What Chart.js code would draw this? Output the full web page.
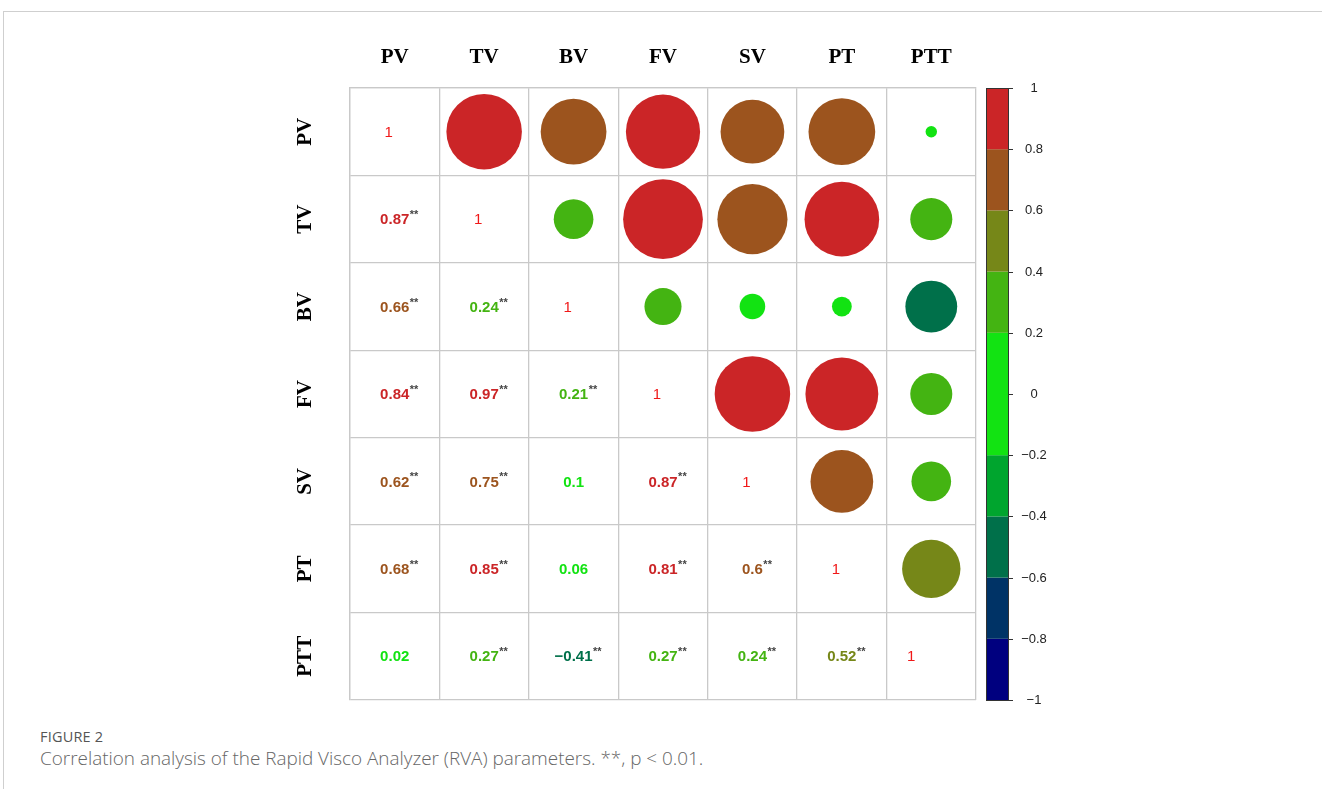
<!DOCTYPE html>
<html>
<head>
<meta charset="utf-8">
<script src="https://cdn.jsdelivr.net/npm/chart.js@4.4.1/dist/chart.umd.min.js"></script>
<style>
  html, body { margin: 0; padding: 0; background: #fff; }
  body { width: 1322px; height: 789px; position: relative; overflow: hidden; }
  #frame { position: absolute; left: 3px; top: 11px; right: 0; bottom: 0;
           border-top: 1px solid #cfcfcf; border-left: 1px solid #cfcfcf; }
  #wrap { position: absolute; left: 0; top: 0; width: 1322px; height: 789px; }
  #figno { position: absolute; left: 40px; top: 727px; font-family: "Open Sans", sans-serif;
           font-size: 14.5px; color: #555; letter-spacing: 0.2px; }
  #caption { position: absolute; left: 40px; top: 745px; font-family: "Open Sans", sans-serif;
             font-size: 18.9px; font-weight: 300; color: #666; }
</style>
</head>
<body>
<div id="frame"></div>
<div id="figno">FIGURE 2</div>
<div id="caption">Correlation analysis of the Rapid Visco Analyzer (RVA) parameters. **, p &lt; 0.01.</div>
<div id="wrap"><canvas id="c" width="1322" height="789"></canvas></div>
<script>
// RVA parameters
const vars = ['PV', 'TV', 'BV', 'FV', 'SV', 'PT', 'PTT'];

// Pearson r, lower triangle: each row variable against the earlier variables
const rTV  = [0.87];
const rBV  = [0.66, 0.24];
const rFV  = [0.84, 0.97, 0.21];
const rSV  = [0.62, 0.75, 0.1, 0.87];
const rPT  = [0.68, 0.85, 0.06, 0.81, 0.6];
const rPTT = [0.02, 0.27, -0.41, 0.27, 0.24, 0.52];

// significance marks (p < 0.01)
const sTV  = ['**'];
const sBV  = ['**', '**'];
const sFV  = ['**', '**', '**'];
const sSV  = ['**', '**', '', '**'];
const sPT  = ['**', '**', '', '**', '**'];
const sPTT = ['', '**', '**', '**', '**', '**'];

// colour key: ten bins of width 0.2 from -1 to 1
const binColors = ['#00007F', '#003366', '#00704A', '#00A52E', '#12E312',
                   '#12E312', '#44B412', '#768718', '#9C541E', '#CB2527'];
const keyTicks = [1, 0.8, 0.6, 0.4, 0.2, 0, -0.2, -0.4, -0.6, -0.8, -1];

const lowerR = [[], rTV, rBV, rFV, rSV, rPT, rPTT];
const lowerS = [[], sTV, sBV, sFV, sSV, sPT, sPTT];

function binColor(r) {
  let k = Math.floor((r + 1) * 5 + 1e-9);
  if (k > 9) k = 9;
  if (k < 0) k = 0;
  return binColors[k];
}
function fmt(v) { return String(v).replace('-', '\u2212'); }

// upper triangle circles (mirror of the lower triangle)
const circles = [];
for (let i = 0; i < vars.length; i++) {
  for (let j = i + 1; j < vars.length; j++) {
    circles.push({ x: vars[j], y: vars[i], r: lowerR[j][i] });
  }
}

const cellText = {
  id: 'cellText',
  afterDatasetsDraw(chart) {
    const ctx = chart.ctx;
    const xs = chart.scales.x, ys = chart.scales.y, cb = chart.scales.cb;
    const n = vars.length;
    ctx.save();
    ctx.textBaseline = 'middle';
    // lower-triangle coefficients
    for (let i = 1; i < n; i++) {
      for (let j = 0; j < i; j++) {
        const v = lowerR[i][j];
        const cx = xs.getPixelForValue(j), cy = ys.getPixelForValue(i);
        const txt = fmt(v);
        ctx.font = 'bold 15px "Liberation Sans", Arial, sans-serif';
        ctx.fillStyle = binColor(v);
        ctx.textAlign = 'center';
        ctx.fillText(txt, cx, cy + 1);
        const w = ctx.measureText(txt).width;
        if (lowerS[i][j]) {
          ctx.font = 'bold 11px "Liberation Sans", Arial, sans-serif';
          ctx.fillStyle = '#444';
          ctx.textAlign = 'left';
          ctx.fillText(lowerS[i][j], cx + w / 2 + 0.5, cy - 4);
        }
      }
    }
    // diagonal
    ctx.font = '15px "Liberation Sans", Arial, sans-serif';
    ctx.fillStyle = '#F01818';
    ctx.textAlign = 'center';
    for (let i = 0; i < n; i++) {
      const shift = i === n - 1 ? -20 : -6;
      ctx.fillText('1', xs.getPixelForValue(i) + shift, ys.getPixelForValue(i) + 1);
    }
    // row labels, rotated
    ctx.font = 'bold 21px "Liberation Serif", "Times New Roman", serif';
    ctx.fillStyle = '#000';
    for (let i = 0; i < n; i++) {
      ctx.save();
      ctx.translate(305, ys.getPixelForValue(i));
      ctx.rotate(-Math.PI / 2);
      ctx.textAlign = 'center';
      ctx.fillText(vars[i], 0, 1);
      ctx.restore();
    }
    // colour key
    const kx = 986, kw = 22;
    for (let k = 0; k < binColors.length; k++) {
      const lo = -1 + 0.2 * k, hi = lo + 0.2;
      const y1 = cb.getPixelForValue(hi), y2 = cb.getPixelForValue(lo);
      ctx.fillStyle = binColors[k];
      ctx.fillRect(kx, y1, kw, y2 - y1);
    }
    ctx.strokeStyle = '#333';
    ctx.lineWidth = 1;
    const top = cb.getPixelForValue(1), bot = cb.getPixelForValue(-1);
    ctx.strokeRect(kx + 0.5, top + 0.5, kw, bot - top);
    ctx.font = '13px "Liberation Sans", Arial, sans-serif';
    ctx.fillStyle = '#222';
    ctx.textAlign = 'center';
    keyTicks.forEach(t => {
      const y = Math.round(cb.getPixelForValue(t)) + 0.5;
      ctx.beginPath();
      ctx.moveTo(kx + kw, y);
      ctx.lineTo(kx + kw + 5, y);
      ctx.stroke();
      ctx.fillText(fmt(t), 1034, y);
    });
    ctx.restore();
  }
};

new Chart(document.getElementById('c'), {
  type: 'scatter',
  data: {
    datasets: [{
      data: circles,
      pointStyle: 'circle',
      pointBorderWidth: 0,
      borderWidth: 0,
      pointHoverRadius: (c) => c.raw ? Math.sqrt(Math.abs(c.raw.r)) * 40.5 : 0,
      pointRadius: (c) => {
        if (!c.raw) return 0;
        const ch = c.chart;
        const cw = ch.scales.x.width / vars.length;
        const chh = ch.scales.y.height / vars.length;
        return Math.sqrt(Math.abs(c.raw.r)) * Math.min(cw, chh) * 0.463;
      },
      pointBackgroundColor: (c) => c.raw ? binColor(c.raw.r) : '#000'
    }]
  },
  options: {
    responsive: false,
    animation: false,
    events: [],
    layout: { padding: { left: 0, right: 346, top: 0, bottom: 89 } },
    plugins: { legend: { display: false }, tooltip: { enabled: false } },
    scales: {
      x: {
        type: 'category',
        labels: vars,
        position: 'top',
        offset: true,
        grid: { offset: true, color: '#c9c9c9', lineWidth: 1.3, drawTicks: false },
        border: { color: '#c9c9c9', width: 1.3 },
        ticks: { color: '#000', padding: 18,
                 font: { family: '"Liberation Serif", "Times New Roman", serif', weight: 'bold', size: 21 } },
        afterFit: (s) => { s.height = 88; }
      },
      y: {
        type: 'category',
        labels: vars,
        offset: true,
        grid: { offset: true, color: '#c9c9c9', lineWidth: 1.3, drawTicks: false },
        border: { color: '#c9c9c9', width: 1.3 },
        ticks: { display: false },
        afterFit: (s) => { s.width = 350; }
      },
      cb: {
        type: 'linear',
        position: 'right',
        min: -1,
        max: 1,
        display: false
      }
    }
  },
  plugins: [cellText]
});
</script>
</body>
</html>
